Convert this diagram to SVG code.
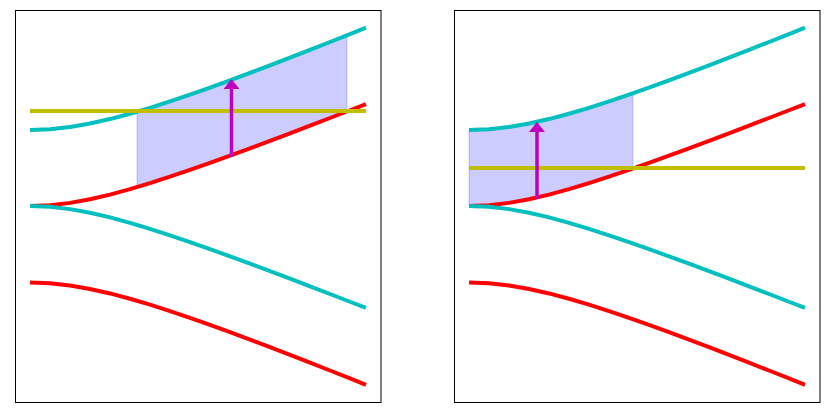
<svg xmlns="http://www.w3.org/2000/svg" xmlns:xlink="http://www.w3.org/1999/xlink" width="830" height="418" viewBox="0 0 830 418">
<style>
.frame{fill:none;stroke:#000;stroke-width:1}
.curve{fill:none;stroke-width:4;stroke-linejoin:round;stroke-linecap:butt}
.cyan{stroke:#00bfbf}
.red{stroke:#ff0000}
.yel{stroke:#bfbf00;stroke-width:4;fill:none}
.band{fill:#0000ff;fill-opacity:0.2;stroke:#0000ff;stroke-opacity:0.2;stroke-width:1}
.arrow{fill:#bf00bf;stroke:none}
</style>
<defs>
<path id="cyanUp" d="M30,130 L50,129.24 L70,127.04 L90,123.57 L110,119.07 L130,113.76 L150,107.83 L170,101.42 L190,94.65 L210,87.6 L230,80.33 L250,72.89 L270,65.32 L290,57.63 L310,49.85 L330,42 L350,34.08 L366,27.71"/>
<path id="redUp" d="M30,206 L50,205.19 L70,202.87 L90,199.24 L110,194.58 L130,189.14 L150,183.13 L170,176.68 L190,169.91 L210,162.89 L230,155.69 L250,148.34 L270,140.88 L290,133.32 L310,125.69 L330,118 L350,110.25 L366,104.02"/>
<path id="cyanLow" d="M30,206 L50,206.81 L70,209.13 L90,212.76 L110,217.42 L130,222.86 L150,228.87 L170,235.32 L190,242.09 L210,249.11 L230,256.31 L250,263.66 L270,271.12 L290,278.68 L310,286.31 L330,294 L350,301.75 L366,307.98"/>
<path id="redLow" d="M30,282.5 L50,283.26 L70,285.46 L90,288.93 L110,293.43 L130,298.74 L150,304.67 L170,311.08 L190,317.85 L210,324.9 L230,332.17 L250,339.61 L270,347.18 L290,354.87 L310,362.65 L330,370.5 L350,378.42 L366,384.79"/>
</defs>
<g id="panel-left">
<rect class="frame" x="15.5" y="10.5" width="365.5" height="392"/>
<path class="band" d="M137,111.75 L150,107.83 L170,101.42 L190,94.65 L210,87.6 L230,80.33 L250,72.89 L270,65.32 L290,57.63 L310,49.85 L330,42 L347,35.27 L347,111.41 L330,118 L310,125.69 L290,133.32 L270,140.88 L250,148.34 L230,155.69 L210,162.89 L190,169.91 L170,176.68 L150,183.13 L137,187.1 Z"/>
<use xlink:href="#redUp" class="curve red"/>
<use xlink:href="#cyanUp" class="curve cyan"/>
<use xlink:href="#redLow" class="curve red"/>
<use xlink:href="#cyanLow" class="curve cyan"/>
<line class="yel" x1="30" y1="111" x2="366" y2="111"/>
<g id="arrow-left">
<rect class="arrow" x="229.75" y="88" width="3.5" height="69"/>
<polygon class="arrow" points="231.5,79 239.5,89 223.5,89"/>
</g>
</g>
<g id="panel-right">
<rect class="frame" x="454.5" y="10.5" width="365.5" height="392"/>
<path class="band" d="M469,130 L489,129.24 L509,127.04 L529,123.57 L549,119.07 L569,113.76 L589,107.83 L609,101.42 L629,94.65 L633,93.26 L633,168.52 L629,169.91 L609,176.68 L589,183.13 L569,189.14 L549,194.58 L529,199.24 L509,202.87 L489,205.19 L469,206 Z"/>
<g transform="translate(439,0)">
<use xlink:href="#redUp" class="curve red"/>
<use xlink:href="#cyanUp" class="curve cyan"/>
<use xlink:href="#redLow" class="curve red"/>
<use xlink:href="#cyanLow" class="curve cyan"/>
</g>
<line class="yel" x1="469" y1="168" x2="805" y2="168"/>
<g id="arrow-right">
<rect class="arrow" x="535.25" y="131" width="3.5" height="68"/>
<polygon class="arrow" points="537,122 545,132 529,132"/>
</g>
</g>
</svg>
